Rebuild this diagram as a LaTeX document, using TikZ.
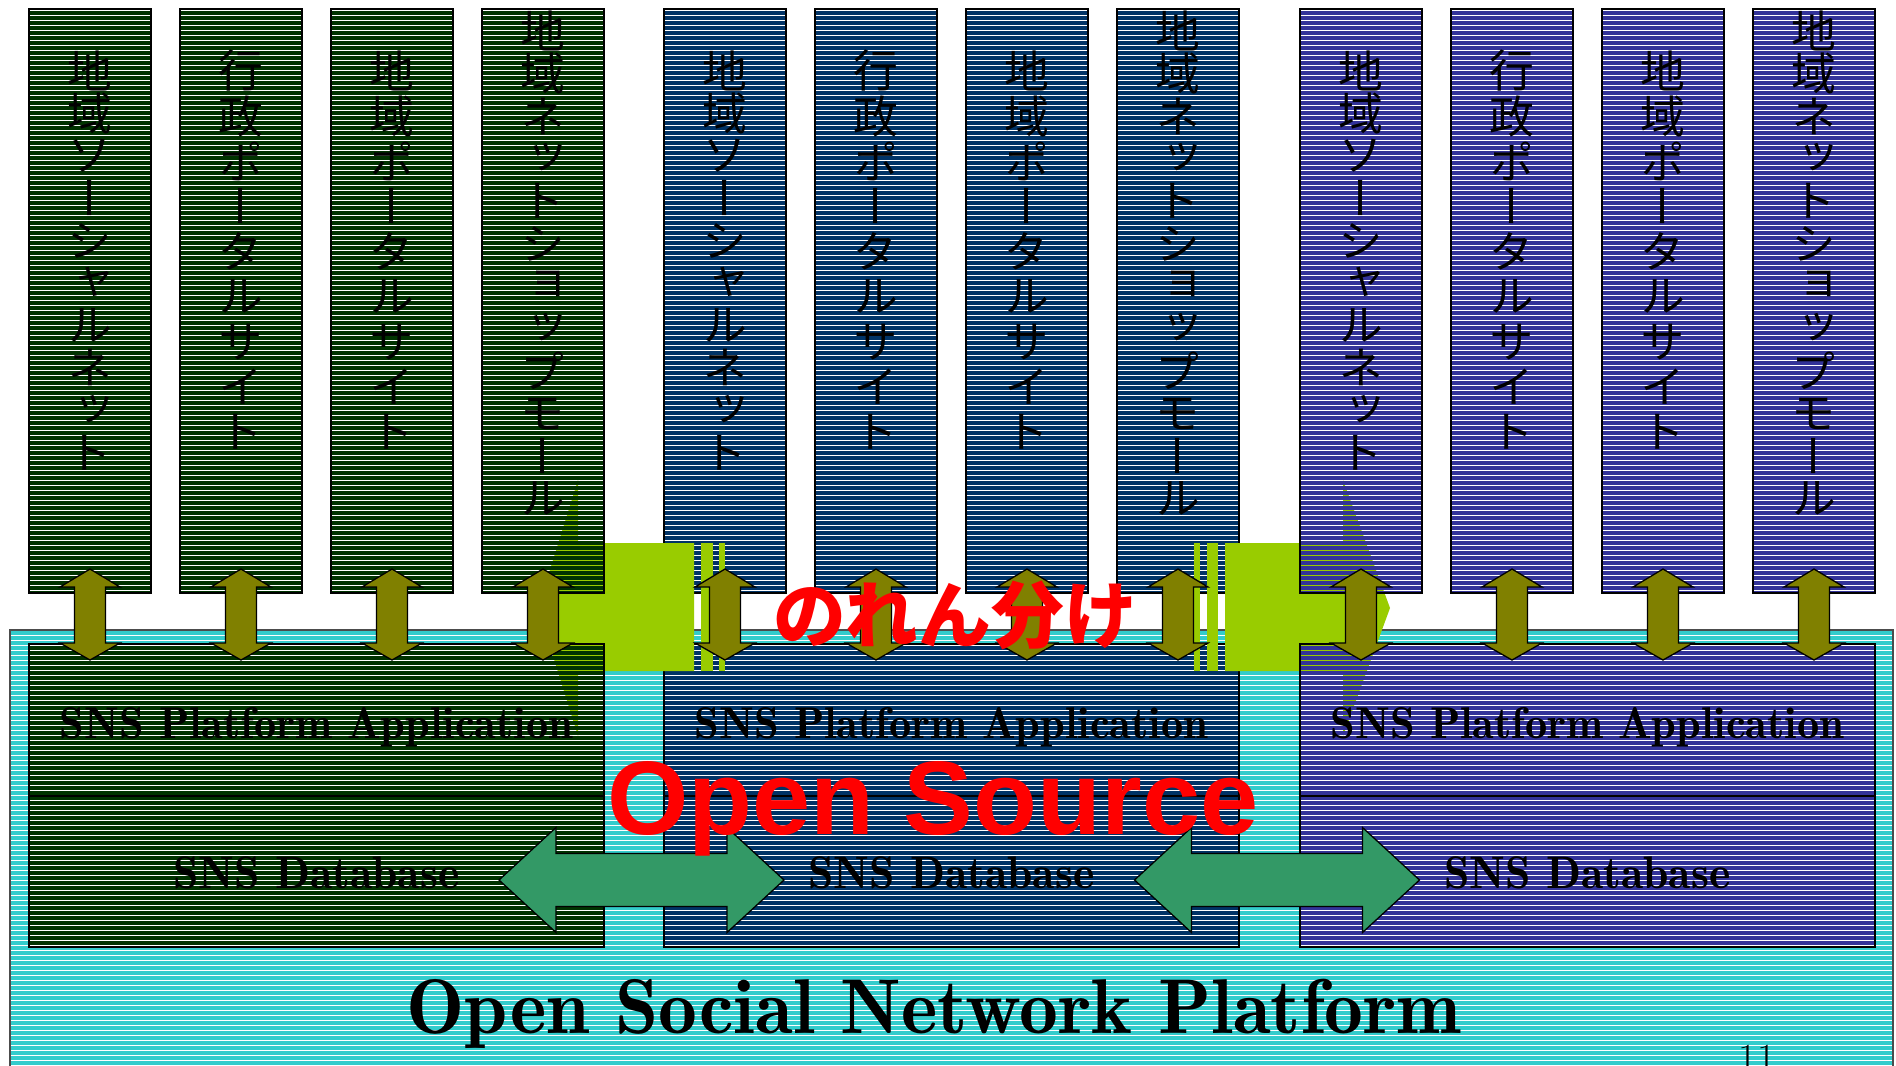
\documentclass[tikz,border=0pt]{standalone}
\usepackage{fontspec}
\usetikzlibrary{calc}
\setsansfont{Liberation Sans}
\newfontfamily\jpfont{Noto Sans CJK JP}
\newfontfamily\jpvert[RawFeature=+vert]{Noto Sans CJK JP}
\newfontfamily\lmdemi{lmromandemi10-regular.otf}
\definecolor{cgreen}{HTML}{003300}
\definecolor{cblue}{HTML}{003366}
\definecolor{cpurple}{HTML}{333399}
\definecolor{ccyan}{HTML}{33CCCC}
\definecolor{clime}{HTML}{99CC00}
\definecolor{colive}{HTML}{808000}
\definecolor{csea}{HTML}{339966}
% horizontal line hatching with 1px transparent gaps: x1,y1,x2,y2,colour
\newcommand\hatchrect[5]{%
  \begin{scope}
    \clip (#1,#2) rectangle (#3,#4);
    \draw[#5,line width=4bp] \foreach \yy in {3,8,...,1098} {(#1,\yy) -- (#3,\yy)};
  \end{scope}}
\begin{document}
\begin{tikzpicture}[x=1bp,y=-1bp,
  boxline/.style={draw=black,line width=1.5bp,inner sep=0pt,outer sep=0pt,anchor=north west},
  topbox/.style={boxline,minimum width=122bp,minimum height=584bp},
  appbox/.style={boxline,minimum width=575bp,minimum height=152bp},
  dbbox/.style={boxline,minimum width=575bp,minimum height=151bp},
  jv/.style={font=\jpvert\fontsize{45}{45}\selectfont,inner sep=0pt,text=black},
  snst/.style={inner sep=0pt,anchor=base,text=black,font=\lmdemi\fontsize{40}{44}\selectfont},
  limefill/.style={fill=clime,draw=none},
  olivearrow/.style={fill=colive,draw=black,line width=1.3bp,line join=miter},
  seaarrow/.style={fill=csea,draw=black,line width=1.3bp,line join=miter},
  vda/.pic={\draw[olivearrow] (0,-24) -- (30,-6) -- (15.5,-6) -- (15.5,50) -- (30,50) -- (0,67) -- (-30,50) -- (-15.5,50) -- (-15.5,-6) -- (-30,-6) -- cycle;},
  hda/.pic={\draw[seaarrow] (-142.5,0) -- (-85.5,-52.5) -- (-85.5,-26.5) -- (85.5,-26.5) -- (85.5,-52.5) -- (142.5,0) -- (85.5,52.5) -- (85.5,26.5) -- (-85.5,26.5) -- (-85.5,52.5) -- cycle;}
]
\useasboundingbox (0,0) rectangle (1896,1065);
\fill[white] (0,0) rectangle (1896,1065);
% base platform
\hatchrect{10}{630}{1893}{1100}{ccyan}
\node[boxline,draw=black!70,minimum width=1883bp,minimum height=470bp] (base) at (10,630) {};
% middle (blue) group
\foreach \k in {0,1,2,3} {
  \hatchrect{664+\k*151}{9}{786+\k*151}{593}{cblue}
  \node[topbox] (b\k) at (664+\k*151,9) {};
}
\hatchrect{664}{644}{1239}{947}{cblue}
\node[appbox] (bapp) at (664,644) {};
\node[dbbox] (bdb) at (664,796) {};
% noren arrows (lime)
\fill[limefill] (538,608) -- (578,480) -- (578,543) -- (694,543) -- (694,671) -- (578,671) -- (578,736) -- cycle;
\fill[limefill] (701,543) rectangle (713,671);
\fill[limefill] (719,543) rectangle (725,671);
\fill[limefill] (1390,608) -- (1343,480) -- (1343,543) -- (1225,543) -- (1225,671) -- (1343,671) -- (1343,736) -- cycle;
\fill[limefill] (1207,543) rectangle (1218,671);
\fill[limefill] (1194,543) rectangle (1200,671);
% green group
\foreach \k in {0,1,2,3} {
  \hatchrect{29+\k*151}{9}{151+\k*151}{593}{cgreen}
  \node[topbox] (g\k) at (29+\k*151,9) {};
}
\hatchrect{29}{644}{604}{947}{cgreen}
\node[appbox] (gapp) at (29,644) {};
\node[dbbox] (gdb) at (29,796) {};
% purple group
\foreach \k in {0,1,2,3} {
  \hatchrect{1300+\k*151}{9}{1422+\k*151}{593}{cpurple}
  \node[topbox] (p\k) at (1300+\k*151,9) {};
}
\hatchrect{1300}{644}{1875}{947}{cpurple}
\node[appbox] (papp) at (1300,644) {};
\node[dbbox] (pdb) at (1300,796) {};
% olive double arrows
\foreach \g in {g,b,p} \foreach \k in {0,1,2,3} \pic at (\g\k.south) {vda};
% database sync arrows
\pic at ($(gdb.east)!0.5!(bdb.west)+(7.5,8.5)$) {hda};
\pic at ($(bdb.east)!0.5!(pdb.west)+(7.5,8.5)$) {hda};
% vertical texts
\foreach \g/\ox in {g/29,b/664,p/1300}{
  \foreach \c [count=\i from 0] in {地,域,ソ,ー,シ,ャ,ル,ネ,ッ,ト}
    \node[jv] (\g ta\i) at (\ox+61,71+\i*42.4) {\c};
  \foreach \c [count=\i from 0] in {行,政,ポ,ー,タ,ル,サ,イ,ト}
    \node[jv] (\g tb\i) at (\ox+212,71+\i*45.1) {\c};
  \foreach \c [count=\i from 0] in {地,域,ポ,ー,タ,ル,サ,イ,ト}
    \node[jv] (\g tc\i) at (\ox+363,71+\i*45.1) {\c};
  \foreach \c [count=\i from 0] in {地,域,ネ,ッ,ト,シ,ョ,ッ,プ,モ,ー,ル}
    \node[jv] (\g td\i) at (\ox+514,31+\i*42.5) {\c};
}
% box texts
\foreach \g/\cx in {g/316.5,b/951.5,p/1587.5}{
  \node[snst] (\g apt) at (\cx,738) {\resizebox{513bp}{!}{SNS Platform Application}};
  \node[snst] (\g dbt) at (\cx,888) {\resizebox{286bp}{!}{SNS Database}};
}
\node[inner sep=0pt,anchor=base,text=red,font=\sffamily\bfseries\fontsize{105}{110}\selectfont] (os) at (933,834) {Open Source};
\node[inner sep=0pt,text=red,font=\jpfont\bfseries\fontsize{73}{80}\selectfont] (noren) at (955,615) {のれん分け};
\node[snst] (osn) at (934,1033) {\resizebox{1055bp}{!}{Open Social Network Platform}};
\node[inner sep=0pt,anchor=north,font=\fontsize{40}{40}\selectfont] (pg) at (1757,1045) {11};
\end{tikzpicture}
\end{document}
